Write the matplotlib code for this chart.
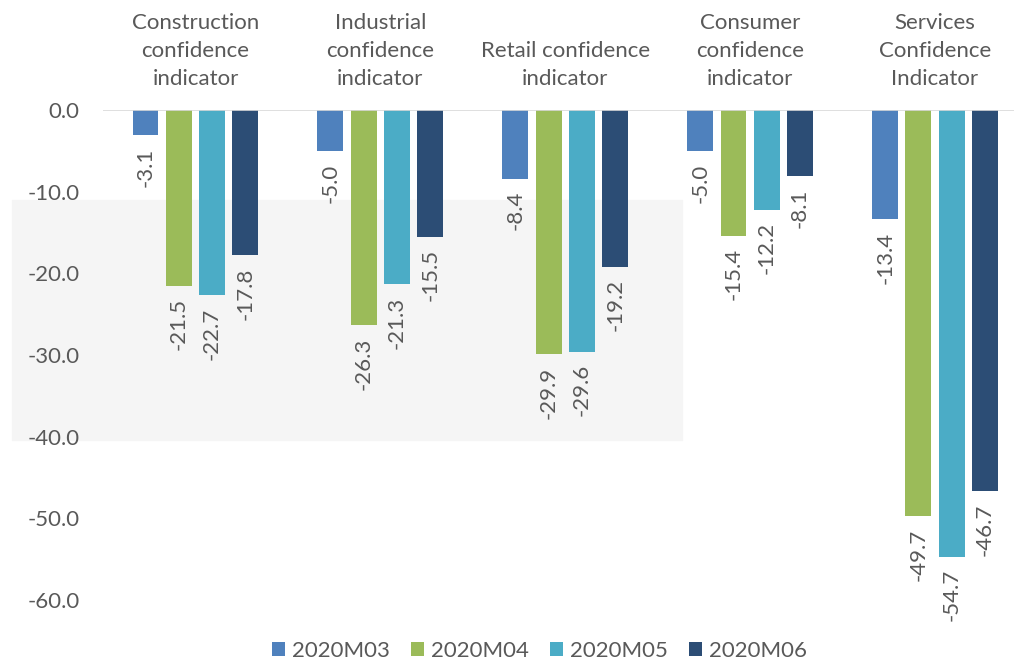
import matplotlib.pyplot as plt
import matplotlib.patches as mpatches
import numpy as np

categories = ['Construction\nconfidence\nindicator', 'Industrial\nconfidence\nindicator',
              'Retail confidence\nindicator', 'Consumer\nconfidence\nindicator',
              'Services\nConfidence\nIndicator']
series = ['2020M03', '2020M04', '2020M05', '2020M06']
m03 = [-3.1, -5.0, -8.4, -5.0, -13.4]
m04 = [-21.5, -26.3, -29.9, -15.4, -49.7]
m05 = [-22.7, -21.3, -29.6, -12.2, -54.7]
m06 = [-17.8, -15.5, -19.2, -8.1, -46.7]
colors = ['#4F81BD', '#9BBB59', '#4BACC6', '#2C4D75']

plt.rcParams['font.family'] = ['Lato', 'DejaVu Sans']
txt = '#595959'
fs = 16

fig = plt.figure(figsize=(10.14, 6.61), dpi=100)
ax = fig.add_axes([103 / 1014, 1 - 600 / 661, 911 / 1014, 490 / 661])
ax.patch.set_alpha(0)
# light grey background box behind the left part of the chart
ax.add_patch(mpatches.Rectangle((12 / 1014, 1 - 440 / 661), 670 / 1014, 240 / 661,
                                transform=fig.transFigure, color='#F5F5F5',
                                zorder=0, clip_on=False))

x = np.arange(len(categories))
step = 0.18
width = 0.14
for k, vals in enumerate([m03, m04, m05, m06]):
    pos = x + (k - 1.5) * step
    ax.bar(pos, vals, width, color=colors[k], label=series[k], zorder=2)
    for p, v in zip(pos, vals):
        ax.annotate('%.1f' % v, (p, v), xytext=(0, -9), textcoords='offset points',
                    rotation=90, ha='center', va='top', fontsize=fs, color=txt)

for i, c in enumerate(categories):
    ax.annotate(c, (i, 0), xytext=(0, 15), textcoords='offset points',
                ha='center', va='bottom', fontsize=fs, color=txt, linespacing=1.5,
                annotation_clip=False)

ax.axhline(0, color='#D9D9D9', lw=1.2, zorder=3)
ax.set_ylim(-60, 0)
ax.set_xlim(-0.5, 4.427)
ax.set_yticks(np.arange(-60, 1, 10))
ax.set_yticklabels(['%.1f' % t for t in np.arange(-60, 1, 10)])
ax.tick_params(axis='y', length=0, labelsize=fs, labelcolor=txt, pad=17)
ax.set_xticks([])
for s in ax.spines.values():
    s.set_visible(False)

ax.legend(loc='center', bbox_to_anchor=(0.532, 1 - 651 / 661), bbox_transform=fig.transFigure,
          ncol=4, frameon=False, fontsize=fs, labelcolor=txt, handlelength=0.6,
          handleheight=0.6, handletextpad=0.3, columnspacing=0.95)

fig.savefig('out.png', dpi=100)
